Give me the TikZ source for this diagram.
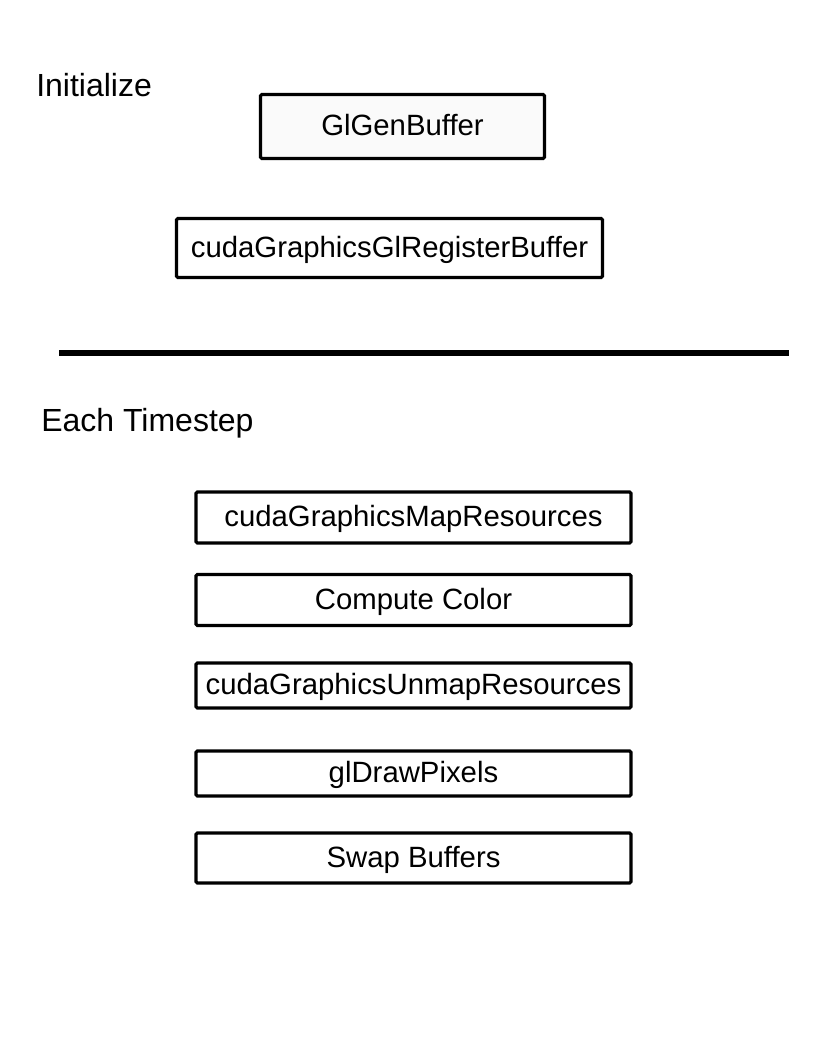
\documentclass[tikz,border=0pt]{standalone}
\usepackage{fontspec}
\setmainfont{Liberation Sans}
\usepackage{tikz}
\usetikzlibrary{calc}
\usepackage{xcolor}

\begin{document}
\begin{tikzpicture}[x=0.75pt,y=-0.75pt,
every node/.style={font=\fontsize{22}{26}\selectfont},
callbox/.style={draw,line width=2.4pt,rounded corners=1pt,inner sep=0pt,minimum width=326.25pt,text height=16pt,text depth=2pt},
label/.style={anchor=base west,inner sep=0pt,font=\fontsize{24}{28}\selectfont}]
\useasboundingbox (0,0) rectangle (816,1056);

% initialize
\node[label] (Init) at (36,96) {Initialize};
\node[callbox,fill=black!2,minimum width=213pt,minimum height=48pt] (GenBuf) at (402.5,126.5) {GlGenBuffer};
\node[callbox,minimum width=319.5pt,minimum height=44.25pt] (RegBuf) at (389.5,248) {cudaGraphicsGlRegisterBuffer};

\coordinate (SepL) at (59,352.5);
\coordinate (SepR) at (789,352.5);
\draw[line width=4.5pt] (SepL) -- (SepR);

% each timestep
\node[label] (Step) at (41,431.5) {Each Timestep};
\node[callbox,minimum height=38.25pt] (MapRes) at (413.5,517.5) {cudaGraphicsMapResources};
\node[callbox,minimum height=38.25pt] (Color) at (413.5,600) {Compute Color};
\node[callbox,minimum height=33.75pt] (UnmapRes) at (413.5,685.5) {cudaGraphicsUnmapResources};
\node[callbox,minimum height=33.75pt] (Draw) at (413.5,773.5) {glDrawPixels};
\node[callbox,minimum height=37.5pt] (Swap) at (413.5,858) {Swap Buffers};
\end{tikzpicture}
\end{document}
